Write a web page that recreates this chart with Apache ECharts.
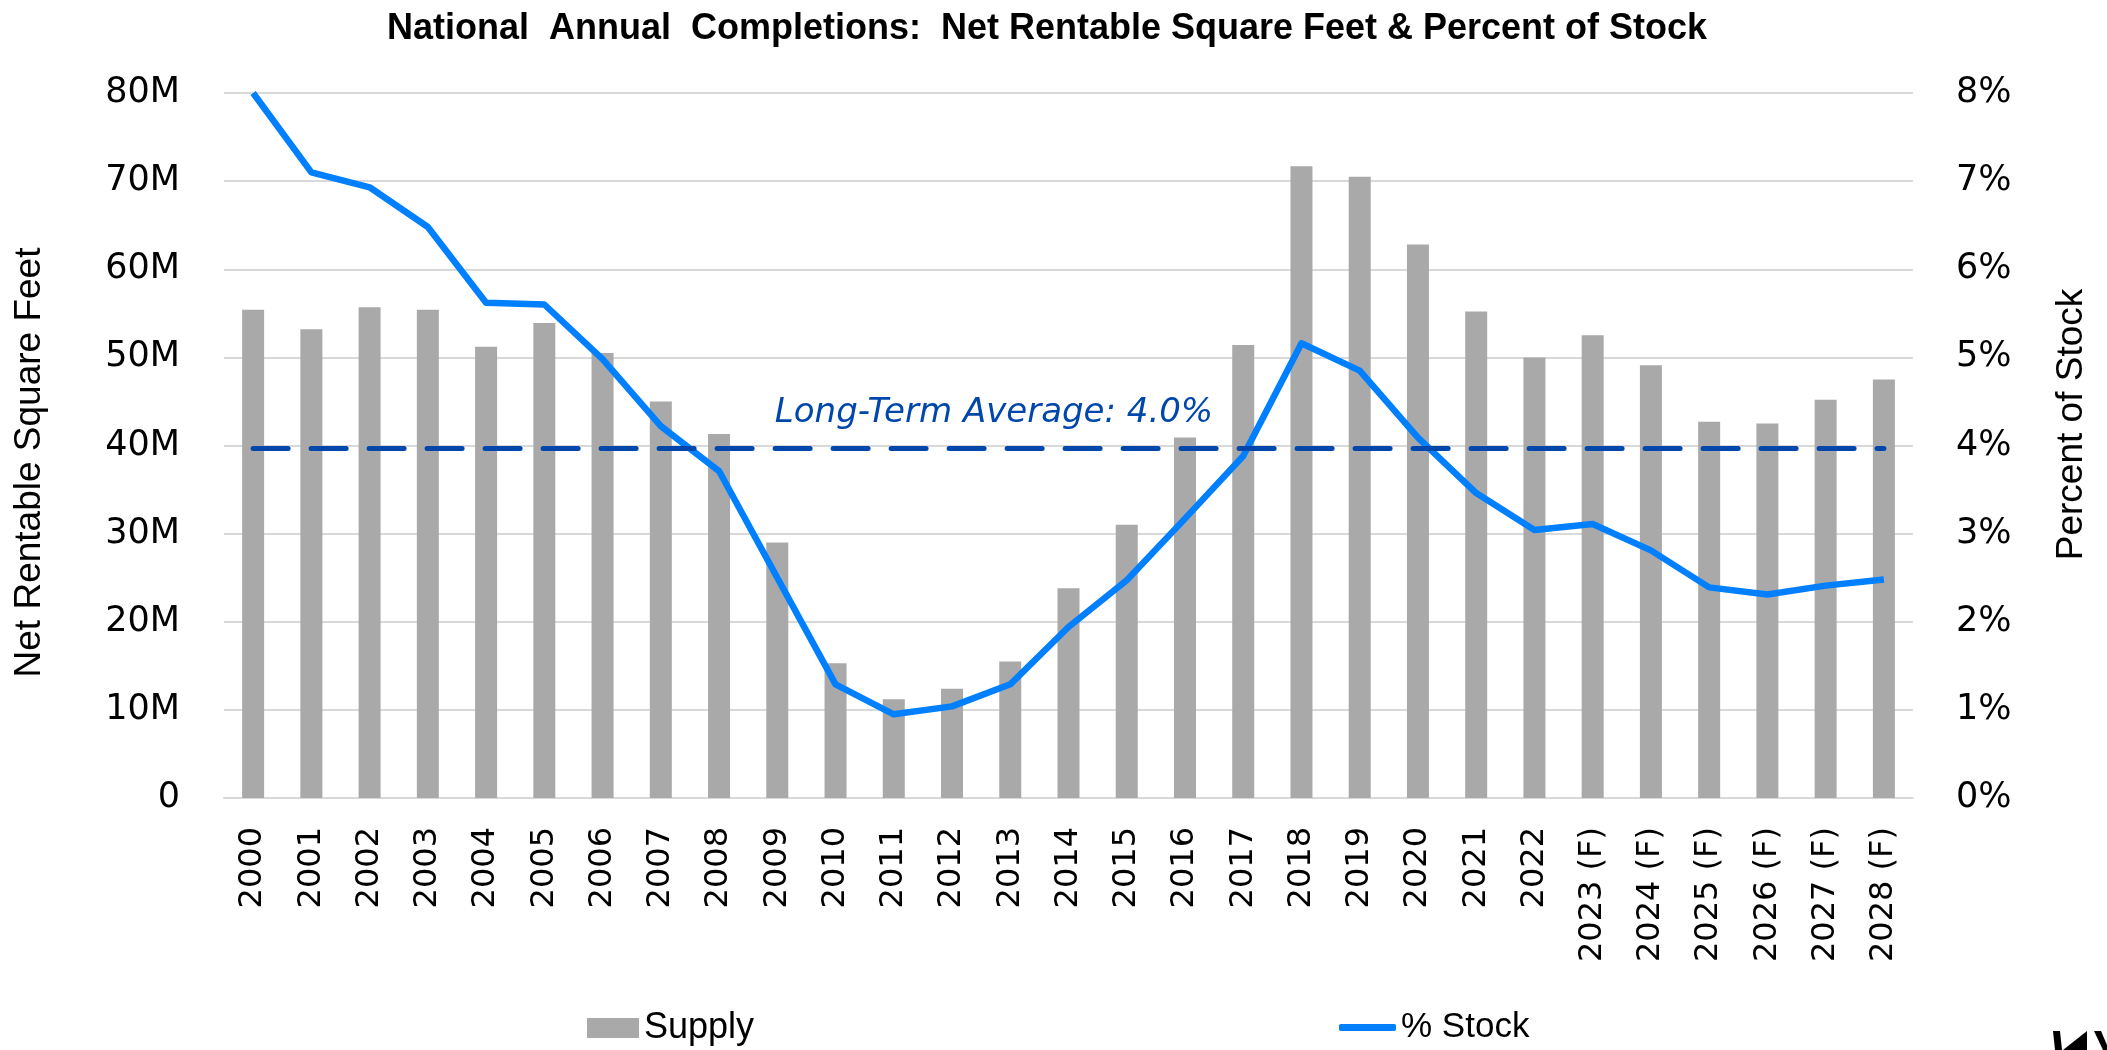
<!DOCTYPE html>
<html>
<head>
<meta charset="utf-8">
<title>National Annual Completions</title>
<script src="https://cdn.jsdelivr.net/npm/echarts@6/dist/echarts.min.js"></script>
<style>
  html, body { margin: 0; padding: 0; background: #fff; }
  #chart { width: 2107px; height: 1050px; }
</style>
</head>
<body>
<div id="chart"></div>
<script>
var categories = ['2000', '2001', '2002', '2003', '2004', '2005', '2006', '2007', '2008', '2009',
  '2010', '2011', '2012', '2013', '2014', '2015', '2016', '2017', '2018', '2019', '2020', '2021',
  '2022', '2023 (F)', '2024 (F)', '2025 (F)', '2026 (F)', '2027 (F)', '2028 (F)'];

// net rentable square feet, millions
var supply = [55.4, 53.2, 55.7, 55.4, 51.2, 53.9, 50.5, 45.0, 41.3, 29.0,
  15.3, 11.2, 12.4, 15.5, 23.8, 31.0, 40.9, 51.4, 71.7, 70.5, 62.8, 55.2,
  50.0, 52.5, 49.1, 42.7, 42.5, 45.2, 47.5];

// completions as percent of stock
var pctStock = [8.0, 7.10, 6.93, 6.48, 5.62, 5.60, 4.98, 4.22, 3.71, 2.50,
  1.29, 0.95, 1.04, 1.29, 1.94, 2.47, 3.17, 3.88, 5.16, 4.85, 4.09, 3.46,
  3.04, 3.11, 2.81, 2.39, 2.31, 2.41, 2.48];

var longTermAvg = 3.97;
var avgLabel = 'Long-Term Average: 4.0%';

var leftTicks = { min: 0, max: 80, interval: 10 };
var rightTicks = { min: 0, max: 8, interval: 1 };

var chart = echarts.init(document.getElementById('chart'));

var sans = "'Liberation Sans', Arial, sans-serif";
var tickFont = "'DejaVu Sans', Verdana, sans-serif";

var option = {
  animation: false,
  backgroundColor: '#fff',
  title: {
    text: 'National  Annual  Completions:  Net Rentable Square Feet & Percent of Stock',
    left: 1042,
    textAlign: 'center',
    top: 6,
    textStyle: { fontFamily: sans, fontWeight: 'bold', fontSize: 36, color: '#000' }
  },
  legend: [{
    data: ['Supply'],
    left: 582,
    top: 1005,
    itemWidth: 52,
    itemHeight: 20,
    icon: 'rect',
    textStyle: { fontFamily: sans, fontSize: 36, color: '#000' }
  }, {
    data: ['% Stock'],
    left: 1334,
    top: 1005,
    itemWidth: 57,
    itemHeight: 7,
    icon: 'roundRect',
    textStyle: { fontFamily: sans, fontSize: 35, color: '#000' }
  }],
  grid: { left: 224, right: 194, top: 93, bottom: 252 },
  xAxis: {
    type: 'category',
    data: categories,
    axisLine: { lineStyle: { color: '#d9d9d9', width: 2 } },
    axisTick: { show: false },
    axisLabel: {
      interval: 0,
      rotate: 90,
      margin: 29,
      fontFamily: tickFont,
      fontSize: 32,
      color: '#000'
    }
  },
  yAxis: [{
    type: 'value',
    min: leftTicks.min,
    max: leftTicks.max,
    interval: leftTicks.interval,
    name: 'Net Rentable Square Feet',
    nameLocation: 'middle',
    nameRotate: 90,
    nameGap: 176,
    nameTextStyle: { fontFamily: sans, fontSize: 37, color: '#000', padding: [0, 34, 0, 0] },
    axisLabel: {
      margin: 44,
      fontFamily: tickFont,
      fontSize: 35,
      color: '#000',
      formatter: function (v) { return v === 0 ? '0' : v + 'M'; }
    },
    splitLine: { lineStyle: { color: '#d9d9d9', width: 2 } },
    axisLine: { show: false },
    axisTick: { show: false }
  }, {
    type: 'value',
    min: rightTicks.min,
    max: rightTicks.max,
    interval: rightTicks.interval,
    name: 'Percent of Stock',
    nameLocation: 'middle',
    nameRotate: 90,
    nameGap: 140,
    nameTextStyle: { fontFamily: sans, fontSize: 37, color: '#000', padding: [0, 0, 0, 42] },
    axisLabel: {
      margin: 43,
      fontFamily: tickFont,
      fontSize: 35,
      color: '#000',
      formatter: '{value}%'
    },
    splitLine: { show: false },
    axisLine: { show: false },
    axisTick: { show: false }
  }],
  series: [{
    name: 'Supply',
    type: 'bar',
    data: supply,
    barWidth: 22,
    itemStyle: { color: '#a9a9a9' }
  }, {
    name: '% Stock',
    type: 'line',
    yAxisIndex: 1,
    data: pctStock,
    symbol: 'none',
    lineStyle: { color: '#0080ff', width: 6.5, join: 'round' },
    itemStyle: { color: '#0080ff' },
    markLine: {
      silent: true,
      symbol: ['none', 'none'],
      label: { show: false },
      lineStyle: { color: '#0047ab', width: 5, type: [35, 23], cap: 'round' },
      data: [[
        { coord: [categories[0], longTermAvg] },
        { coord: [categories[categories.length - 1], longTermAvg] }
      ]]
    }
  }],
  graphic: [{
    type: 'text',
    x: 994,
    y: 413,
    style: {
      text: avgLabel,
      textAlign: 'center',
      textVerticalAlign: 'middle',
      fill: '#0047ab',
      font: "italic 34px 'DejaVu Sans', Verdana, sans-serif"
    }
  }, {
    // cropped logo corner
    type: 'polygon',
    shape: { points: [[2053, 1031], [2060, 1031], [2062, 1050], [2055, 1050]] },
    style: { fill: '#000' }
  }, {
    type: 'polygon',
    shape: { points: [[2063, 1050], [2087, 1031], [2087, 1050]] },
    style: { fill: '#000' }
  }, {
    type: 'polygon',
    shape: { points: [[2094, 1031], [2101, 1031], [2107, 1045], [2107, 1050], [2103, 1050]] },
    style: { fill: '#000' }
  }]
};

chart.setOption(option);
</script>
</body>
</html>
